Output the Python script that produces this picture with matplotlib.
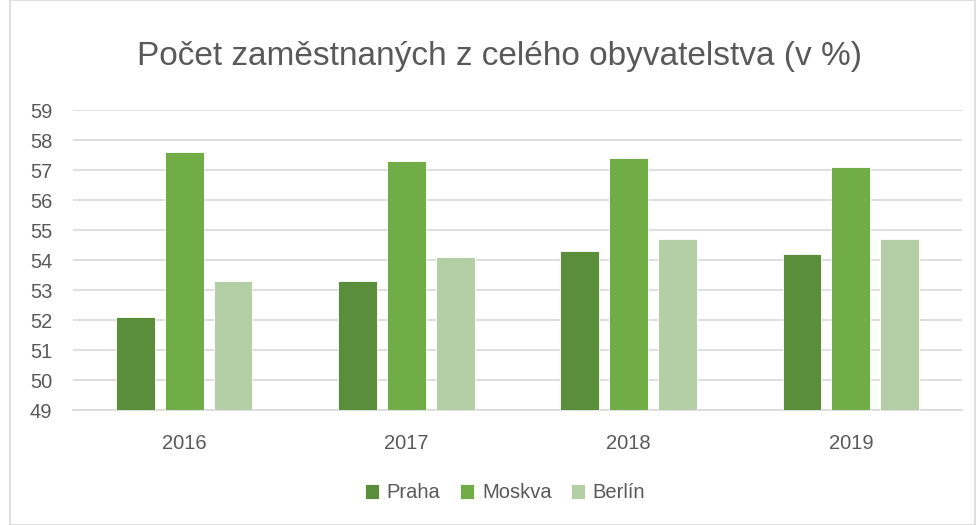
import matplotlib
matplotlib.use('Agg')
import matplotlib.pyplot as plt
from matplotlib.patches import Rectangle
import numpy as np

plt.rcParams['font.family'] = ['Liberation Sans', 'DejaVu Sans']

# Data
years = ['2016', '2017', '2018', '2019']
praha = [52.1, 53.3, 54.3, 54.2]
moskva = [57.6, 57.3, 57.4, 57.1]
berlin = [53.3, 54.1, 54.7, 54.7]

series = [('Praha', praha, '#5B8E3A'),
          ('Moskva', moskva, '#70AD47'),
          ('Berlín', berlin, '#B4CFA6')]

text_color = '#595959'
grid_color = '#D9D9D9'

fig = plt.figure(figsize=(9.76, 5.25), dpi=100)
ax = fig.add_axes([73 / 976, 1 - 410 / 525, (962 - 73) / 976, 300 / 525])

x = np.arange(len(years))
width = 0.175
step = 0.22
base = 49
for i, (name, vals, color) in enumerate(series):
    heights = [v - base for v in vals]
    ax.bar(x + (i - 1) * step, heights, width, bottom=base, color=color,
           edgecolor='white', linewidth=0.6, label=name, zorder=3)

ax.set_xlim(-0.5, len(years) - 0.5)
ax.set_ylim(49, 59)
ax.set_yticks(range(49, 60))
ax.set_xticks(x)
ax.set_xticklabels(years)
ax.yaxis.grid(True, color=grid_color, linewidth=1.2, zorder=0)
ax.xaxis.grid(False)
for s in ['top', 'right', 'left']:
    ax.spines[s].set_visible(False)
ax.spines['bottom'].set_color(grid_color)
ax.spines['bottom'].set_linewidth(1.2)
ax.tick_params(axis='both', length=0, labelsize=14.5, colors=text_color)
ax.tick_params(axis='y', pad=15)
ax.tick_params(axis='x', pad=17)

fig.text(500 / 976, 1 - 57 / 525, 'Počet zaměstnaných z celého obyvatelstva (v %)',
         ha='center', va='center', fontsize=24, color=text_color)

leg = fig.legend(loc='center', bbox_to_anchor=(505 / 976, 1 - 493 / 525), ncol=3,
                 frameon=False, fontsize=14.5, handlelength=0.7, handleheight=0.7,
                 handletextpad=0.4, columnspacing=0.95)
for t in leg.get_texts():
    t.set_color(text_color)

# chart border
fig.patches.append(Rectangle((10 / 976, 0), 965 / 976, 1, transform=fig.transFigure,
                             fill=False, edgecolor=grid_color, linewidth=1.2))

fig.savefig('out.png', dpi=100)
